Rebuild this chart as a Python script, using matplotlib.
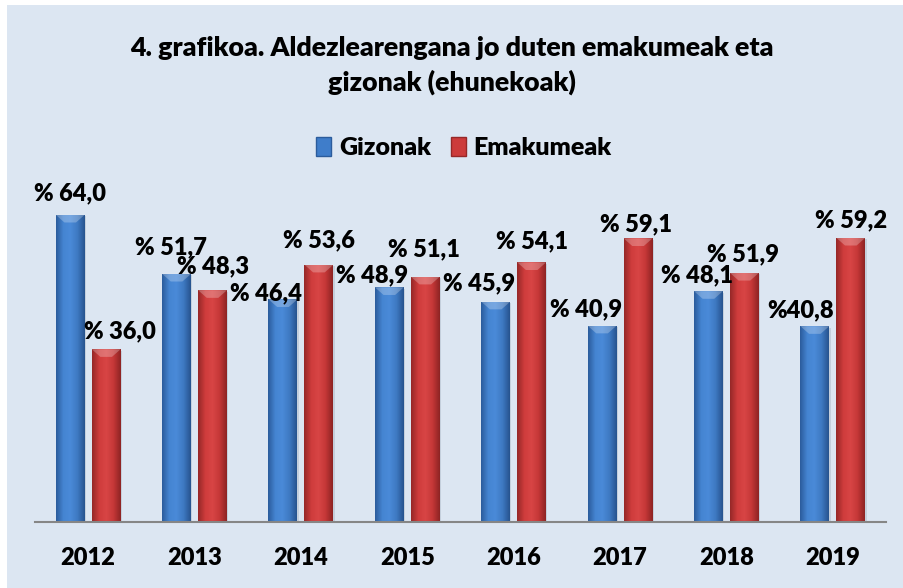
import numpy as np
import matplotlib
matplotlib.use("Agg")
import matplotlib.pyplot as plt
from matplotlib.colors import LinearSegmentedColormap
from matplotlib.patches import Rectangle, Patch

plt.rcParams['font.family'] = ['Lato', 'DejaVu Sans']
plt.rcParams['font.weight'] = 'heavy'

years = ['2012', '2013', '2014', '2015', '2016', '2017', '2018', '2019']
gizonak = [64.0, 51.7, 46.4, 48.9, 45.9, 40.9, 48.1, 40.8]
emakumeak = [36.0, 48.3, 53.6, 51.1, 54.1, 59.1, 51.9, 59.2]
giz_labels = ['% 64,0', '% 51,7', '% 46,4', '% 48,9', '% 45,9', '% 40,9', '% 48,1', '%40,8']
ema_labels = ['% 36,0', '% 48,3', '% 53,6', '% 51,1', '% 54,1', '% 59,1', '% 51,9', '% 59,2']

# label offsets (pixels) from bar top centre -- the labels were moved by hand in excel
giz_off = [(0, 21), (-6, 27), (-17, 6), (-17, 12), (-17, 18), (-16, 16), (-11, 16), (-14, 16)]
ema_off = [(14, 18), (0, 24), (0, 24), (-1, 27), (0, 21), (-2, 14), (-1, 19), (0, 18)]

bg = '#dce6f2'
blue_cm = LinearSegmentedColormap.from_list('b', ['#2b5c9c', '#4585d2', '#4a8ad8', '#3e79c2', '#27548f'])
red_cm = LinearSegmentedColormap.from_list('r', ['#962828', '#cf3c3c', '#d84545', '#c53737', '#8e2424'])

fig = plt.figure(figsize=(9.04, 5.88), dpi=100)
fig.patch.set_facecolor('white')
fig.patches.append(Rectangle((7 / 904, 0), 1, 1 - 5 / 588, transform=fig.transFigure,
                             facecolor=bg, edgecolor='none', zorder=-10))

ax = fig.add_axes([35 / 904, 66 / 588, 851 / 904, 336 / 588])
ax.set_facecolor('none')
x = np.arange(len(years))
w = 0.272
gap = 0.066
grad = np.linspace(0, 1, 64).reshape(1, -1)


def draw_bars(xs, vals, cmap, labels, offs):
    bars = ax.bar(xs, vals, w, color='none', edgecolor='none', zorder=2)
    for b, lab, (dx, dy) in zip(bars, labels, offs):
        x0 = b.get_x()
        h = b.get_height()
        # soft shadow
        ax.add_patch(Rectangle((x0 + 0.012, 0), w, h - 0.3, facecolor='#9aa6b4',
                               alpha=0.35, edgecolor='none', zorder=1))
        im = ax.imshow(grad, cmap=cmap, aspect='auto', extent=(x0, x0 + w, 0, h), zorder=2)
        im.set_clip_path(b)
        # top highlight
        ax.fill([x0, x0 + w, x0 + w * 0.7, x0 + w * 0.3], [h, h, h - 1.6, h - 1.6],
                color='white', alpha=0.25, lw=0, zorder=3)
        ax.annotate(lab, (x0 + w / 2, h), xytext=(dx, dy), textcoords='offset pixels',
                    ha='center', va='center', fontsize=17, fontweight='heavy', zorder=4)


draw_bars(x - w / 2 - gap / 2, gizonak, blue_cm, giz_labels, giz_off)
draw_bars(x + w / 2 + gap / 2, emakumeak, red_cm, ema_labels, ema_off)

ax.set_xlim(-0.5, len(years) - 0.5)
ax.set_ylim(0, 70)
ax.set_xticks(x)
ax.set_xticklabels(years, fontsize=17, fontweight='heavy')
ax.tick_params(axis='x', length=0, pad=18)
ax.set_yticks([])
for s in ['top', 'right', 'left']:
    ax.spines[s].set_visible(False)
ax.spines['bottom'].set_color('#868686')
ax.spines['bottom'].set_linewidth(1.5)

fig.text(0.5, 1 - 48 / 588, '4. grafikoa. Aldezlearengana jo duten emakumeak eta',
         ha='center', va='center', fontsize=19.3, fontweight='heavy')
fig.text(0.5, 1 - 82 / 588, 'gizonak (ehunekoak)',
         ha='center', va='center', fontsize=19.3, fontweight='heavy')

# legend
handles = [Patch(facecolor='#3f7dca', edgecolor='#2b5c9c', label='Gizonak'),
           Patch(facecolor='#cc3b3b', edgecolor='#962828', label='Emakumeak')]
fig.legend(handles=handles, loc='center', bbox_to_anchor=(464 / 904, 1 - 148 / 588), ncol=2,
           frameon=False, handlelength=0.6, handleheight=0.8,
           handletextpad=0.3, columnspacing=0.8, prop={'weight': 'heavy', 'size': 18})

fig.savefig('out.png', dpi=100, facecolor=fig.get_facecolor())
